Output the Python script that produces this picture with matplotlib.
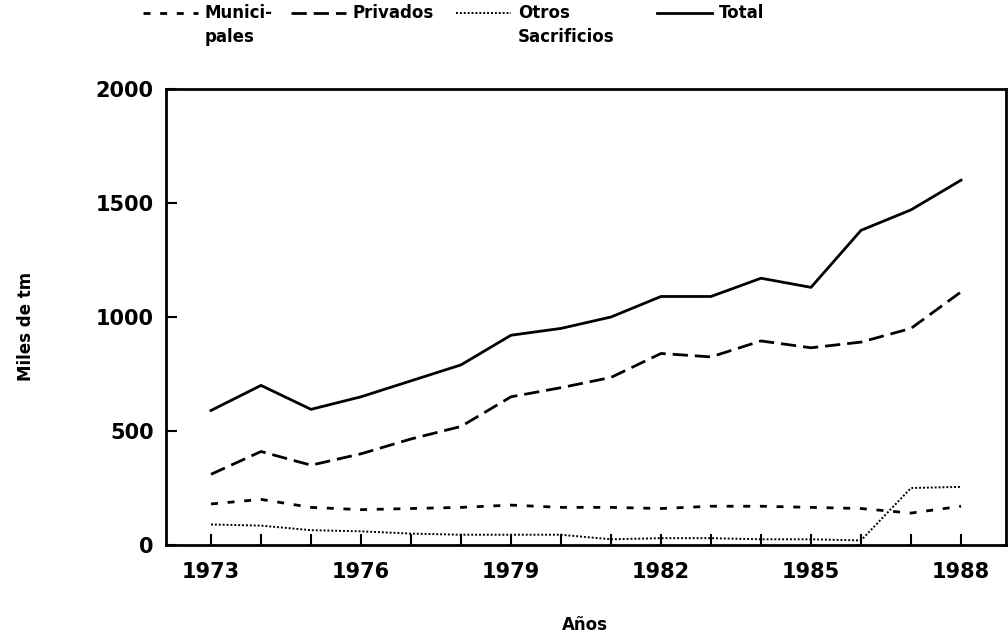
import matplotlib
matplotlib.use("Agg")
import matplotlib.pyplot as plt
from matplotlib.lines import Line2D
from matplotlib.ticker import FixedLocator

years = list(range(1973, 1989))
municipales = [180, 200, 165, 155, 160, 165, 175, 165, 165, 160, 170, 170, 165, 160, 140, 170]
privados = [310, 410, 350, 400, 465, 520, 650, 690, 735, 840, 825, 895, 865, 890, 950, 1110]
otros = [90, 85, 65, 60, 50, 45, 45, 45, 25, 30, 30, 25, 25, 20, 250, 255]
total = [590, 700, 595, 650, 720, 790, 920, 950, 1000, 1090, 1090, 1170, 1130, 1380, 1470, 1600]

series_names = ['Munici-\npales', 'Privados', 'Otros\nSacrificios', 'Total']
xtick_labels = ["1973", "1976", "1979", "1982", "1985", "1988"]
ytick_values = [0, 500, 1000, 1500, 2000]

plt.rcParams['font.family'] = ['DejaVu Sans']
plt.rcParams['font.weight'] = 'bold'

fig = plt.figure(figsize=(10.08, 6.39), dpi=100)
ax = fig.add_axes([166/1008, 1-545/639, (1006-166)/1008, (545-89)/639])

styles = [
    dict(lw=2.0, dashes=(2.5, 3.5)),
    dict(lw=2.0, dashes=(5.5, 2.5)),
    dict(lw=1.4, dashes=(1.0, 1.0)),
    dict(lw=2.0, dashes=()),
]
data = [municipales, privados, otros, total]

for vals, name, st in zip(data, series_names, styles):
    kw = dict(color='black', lw=st['lw'], label=name)
    if st['dashes']:
        kw['dashes'] = st['dashes']
    ax.plot(years, vals, **kw)

ax.set_xlim(1972.1, 1988.9)
ax.set_ylim(0, 2000)

ax.xaxis.set_major_locator(FixedLocator([int(s) for s in xtick_labels]))
ax.set_xticklabels(xtick_labels)
ax.xaxis.set_minor_locator(FixedLocator(years))
ax.set_yticks(ytick_values)
ax.set_yticklabels([str(v) for v in ytick_values])

ax.tick_params(axis='both', which='both', direction='in', length=8, width=1.5,
               labelsize=15)
ax.tick_params(axis='x', which='both', pad=12)
ax.tick_params(axis='y', which='both', pad=9)
for lab in ax.get_xticklabels() + ax.get_yticklabels():
    lab.set_fontweight('bold')

for s in ax.spines.values():
    s.set_linewidth(2.0)

ax.set_xlabel('Años', fontsize=12, fontweight='bold')
ax.xaxis.set_label_coords((585-166)/840, (545-616)/456)
ax.set_ylabel('Miles de tm', fontsize=12, fontweight='bold')
ax.yaxis.set_label_coords((35-166)/840, 0.48)

# legend drawn at the top of the figure
leg_x = [143, 291, 456, 657]
for name, st, x0 in zip(series_names, styles, leg_x):
    y = 1 - 13/639
    ln = Line2D([x0/1008, (x0+55)/1008], [y, y], transform=fig.transFigure,
                color='black', lw=st['lw'])
    if st['dashes']:
        ln.set_dashes(st['dashes'])
    fig.add_artist(ln)
    fig.text((x0+62)/1008, 1 - 4/639, name, fontsize=12, fontweight='bold',
             va='top', ha='left', linespacing=1.45)

fig.savefig('out.png', dpi=100)
